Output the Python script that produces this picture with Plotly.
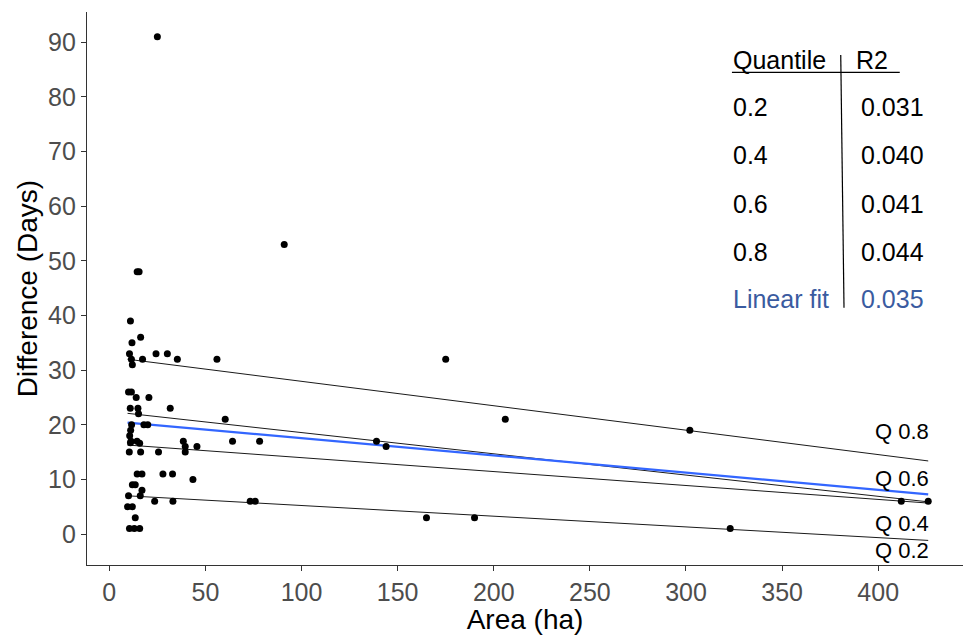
import plotly.graph_objects as go

# ---- data ----
area = [25, 91, 175, 206, 139, 144, 165, 190, 302, 323, 412, 426,
        14.5, 15.5, 11, 16.3, 11.8, 10.5, 11.5, 12, 17.3, 24.3, 30.2, 35.4, 56,
        10, 11.5, 14, 20.6, 10.9, 14.9, 31.7, 15.2, 60.3, 18, 20,
        11.6, 11.1, 10.6, 11.3, 11, 14.4, 15.8, 10.4, 16.3, 25.6,
        38.5, 39.5, 39.5, 45.6, 64.1, 78.2,
        14.5, 17, 27.9, 32.9, 43.5, 12, 13.5, 17, 10, 16.1, 23.6, 33.1, 73.3, 75.9,
        9.5, 12, 13.5, 10.5, 13, 15.8]
diff = [91, 53, 32, 21, 17, 16, 3, 3, 19, 1, 6, 6,
        48, 48, 39, 36, 35, 33, 32, 31, 32, 33, 33, 32, 32,
        26, 26, 25, 25, 23, 23, 23, 22, 21, 20, 20,
        20, 19, 18, 17, 16.7, 17, 16.6, 15, 15, 15,
        17, 16, 15, 16, 17, 17,
        11, 11, 11, 11, 10, 9, 9, 8, 7, 7, 6, 6, 6, 6,
        5, 5, 3, 1, 1, 1]

quantiles = ["0.2", "0.4", "0.6", "0.8"]
q_intercepts = [7.18, 16.53, 22.46, 32.42]
q_slopes = [-0.0196, -0.0255, -0.0389, -0.0447]
q_r2 = ["0.031", "0.040", "0.041", "0.044"]
q_label_y = [-3.1, 1.9, 10.1, 18.7]

lin_intercept = 20.69
lin_slope = -0.0315
lin_r2 = "0.035"

x_ticks = [0, 50, 100, 150, 200, 250, 300, 350, 400]
y_ticks = [0, 10, 20, 30, 40, 50, 60, 70, 80, 90]

FONT = "Liberation Sans, Arial, sans-serif"
TABLE_BLUE = "#3A5BA0"
TABLE_SIZE = 25

fig = go.Figure()

xmin, xmax = min(area), max(area)
for a, b in zip(q_intercepts, q_slopes):
    fig.add_trace(go.Scatter(x=[xmin, xmax], y=[a + b * xmin, a + b * xmax],
                             mode="lines", line=dict(color="#1a1a1a", width=1),
                             showlegend=False, hoverinfo="skip"))
fig.add_trace(go.Scatter(x=[xmin, xmax],
                         y=[lin_intercept + lin_slope * xmin, lin_intercept + lin_slope * xmax],
                         mode="lines", line=dict(color="#3366FF", width=2.2),
                         showlegend=False, hoverinfo="skip"))
fig.add_trace(go.Scatter(x=area, y=diff, mode="markers",
                         marker=dict(color="black", size=7), showlegend=False))

annotations = []
for q, yy in zip(quantiles, q_label_y):
    annotations.append(dict(x=412.5, y=yy, xref="x", yref="y", text="Q " + q,
                            showarrow=False, xanchor="center", yanchor="middle",
                            font=dict(family=FONT, size=22, color="black")))

# table
tx_left, tx_right = 323.5, 390.0
annotations.append(dict(x=tx_left, y=86.8, text="Quantile", xref="x", yref="y",
                        showarrow=False, xanchor="left", yanchor="middle",
                        font=dict(family=FONT, size=TABLE_SIZE, color="black")))
annotations.append(dict(x=387.6, y=86.8, text="R2", xref="x", yref="y",
                        showarrow=False, xanchor="left", yanchor="middle",
                        font=dict(family=FONT, size=TABLE_SIZE, color="black")))
row_y = [78.2, 69.4, 60.4, 51.6]
for q, r, yy in zip(quantiles, q_r2, row_y):
    annotations.append(dict(x=tx_left, y=yy, text=q, xref="x", yref="y",
                            showarrow=False, xanchor="left", yanchor="middle",
                            font=dict(family=FONT, size=TABLE_SIZE, color="black")))
    annotations.append(dict(x=tx_right, y=yy, text=r, xref="x", yref="y",
                            showarrow=False, xanchor="left", yanchor="middle",
                            font=dict(family=FONT, size=TABLE_SIZE, color="black")))
annotations.append(dict(x=tx_left, y=43.0, text="Linear fit", xref="x", yref="y",
                        showarrow=False, xanchor="left", yanchor="middle",
                        font=dict(family=FONT, size=TABLE_SIZE, color=TABLE_BLUE)))
annotations.append(dict(x=tx_right, y=43.0, text=lin_r2, xref="x", yref="y",
                        showarrow=False, xanchor="left", yanchor="middle",
                        font=dict(family=FONT, size=TABLE_SIZE, color=TABLE_BLUE)))

shapes = [
    dict(type="line", xref="x", yref="y", x0=323.9, x1=411.2, y0=84.5, y1=84.5,
         line=dict(color="black", width=1.2)),
    dict(type="line", xref="x", yref="y", x0=380.5, x1=382.2, y0=87.7, y1=41.4,
         line=dict(color="black", width=1.2)),
]

fig.update_layout(
    width=963, height=635,
    margin=dict(l=87, r=0, t=12, b=70),
    paper_bgcolor="white", plot_bgcolor="white",
    font=dict(family=FONT, color="black"),
    annotations=annotations, shapes=shapes,
    xaxis=dict(range=[-11.6, 444.1], tickvals=x_ticks, ticktext=[str(v) for v in x_ticks],
               showgrid=False, zeroline=False, showline=True, linecolor="#333333", linewidth=1.2,
               ticks="outside", ticklen=5, tickcolor="#333333", tickwidth=1,
               tickfont=dict(family=FONT, size=25, color="#4D4D4D"),
               title=dict(text="Area (ha)", font=dict(family=FONT, size=28, color="black"), standoff=2)),
    yaxis=dict(range=[-5.67, 95.55], tickvals=y_ticks, ticktext=[str(v) for v in y_ticks],
               showgrid=False, zeroline=False, showline=True, linecolor="#333333", linewidth=1.2,
               ticks="outside", ticklen=5, tickcolor="#333333", tickwidth=1,
               tickfont=dict(family=FONT, size=25, color="#4D4D4D"),
               title=dict(text="Difference (Days)", font=dict(family=FONT, size=28, color="black"), standoff=2)),
)

fig.write_html("out.html")
